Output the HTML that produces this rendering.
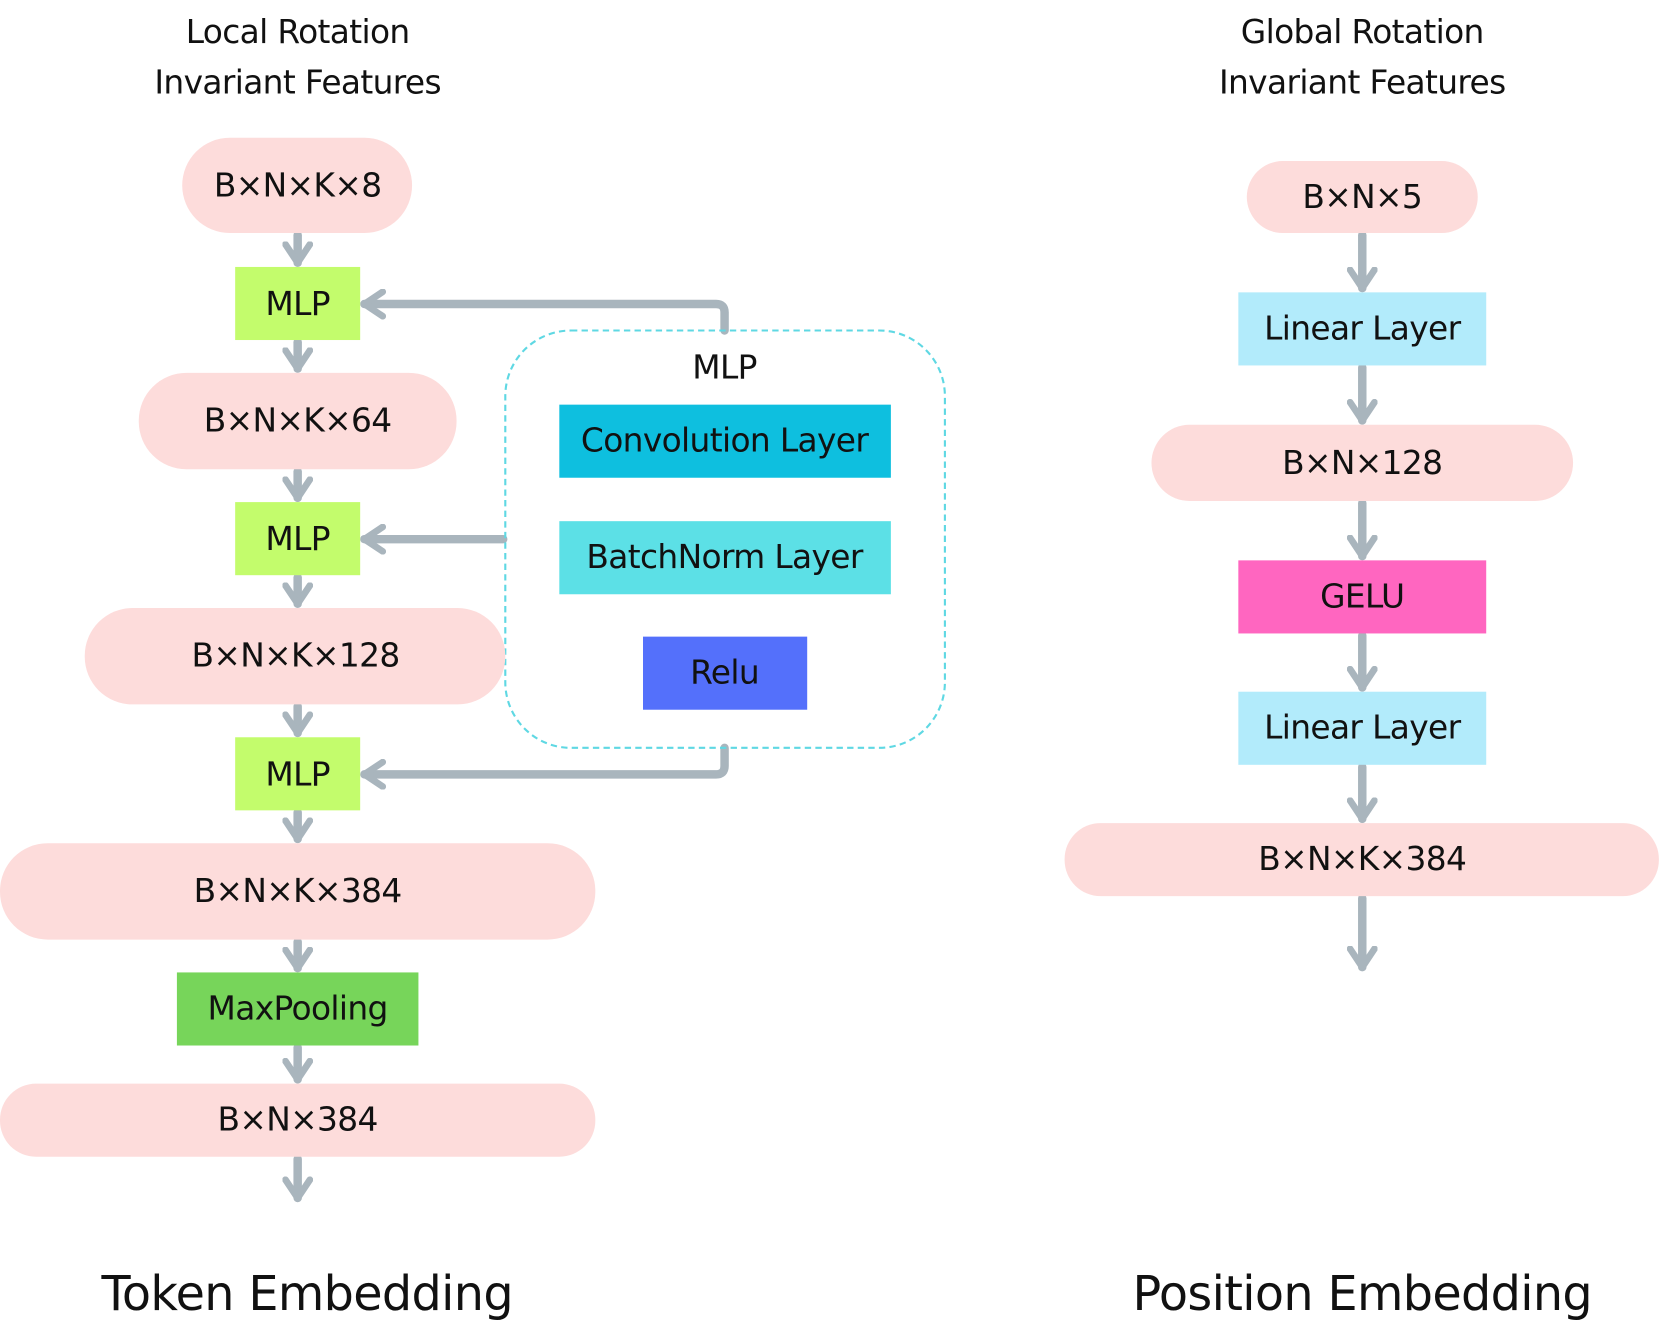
<!DOCTYPE html>
<html><head><meta charset="utf-8"><style>
html,body{margin:0;padding:0;background:#fff}
svg{display:block}
text{font-family:"DejaVu Sans","Liberation Sans",sans-serif;fill:#111;text-anchor:middle;dominant-baseline:central;letter-spacing:-0.6px}
</style></head><body>
<svg width="1661" height="1340" viewBox="0 0 1568 1265" preserveAspectRatio="none" xmlns="http://www.w3.org/2000/svg">
<defs>
<marker id="a" viewBox="0 0 10 10" refX="7" refY="5" markerWidth="3.6" markerHeight="3.6" orient="auto" markerUnits="strokeWidth">
<path d="M1,1 L7,5 L1,9" fill="none" stroke="#a9b5bd" stroke-width="2.2" stroke-linecap="round" stroke-linejoin="round"/>
</marker>
</defs>
<g font-size="31">
<text x="281" y="30">Local Rotation</text>
<text x="281" y="78">Invariant Features</text>
<text x="1286" y="30">Global Rotation</text>
<text x="1286" y="78">Invariant Features</text>
</g>
<g stroke="#a9b5bd" stroke-width="8" fill="none" marker-end="url(#a)" stroke-linecap="round">
<line x1="281" y1="222" x2="281" y2="248"/>
<line x1="281" y1="323" x2="281" y2="348"/>
<line x1="281" y1="445" x2="281" y2="470"/>
<line x1="281" y1="545" x2="281" y2="570"/>
<line x1="281" y1="667" x2="281" y2="692"/>
<line x1="281" y1="767" x2="281" y2="792"/>
<line x1="281" y1="889" x2="281" y2="914"/>
<line x1="281" y1="989" x2="281" y2="1019"/>
<line x1="281" y1="1094" x2="281" y2="1131"/>
<path d="M684,312 V295 Q684,287 676,287 H344"/>
<line x1="475" y1="509" x2="344" y2="509"/>
<path d="M684,706 V723 Q684,731 676,731 H344"/>
<line x1="1286" y1="222" x2="1286" y2="272"/>
<line x1="1286" y1="347" x2="1286" y2="397"/>
<line x1="1286" y1="475" x2="1286" y2="525"/>
<line x1="1286" y1="600" x2="1286" y2="649"/>
<line x1="1286" y1="724" x2="1286" y2="773"/>
<line x1="1286" y1="848" x2="1286" y2="913"/>
</g>
<rect x="477" y="312" width="415" height="394" rx="62" fill="none" stroke="#5fd8e3" stroke-width="2" stroke-dasharray="6,4"/>
<g fill="#fddcdb">
<rect x="172" y="130" width="217" height="90" rx="45"/>
<rect x="131" y="352" width="300" height="91" rx="45"/>
<rect x="80" y="574" width="397" height="91" rx="45"/>
<rect x="0" y="796" width="562" height="91" rx="45"/>
<rect x="0" y="1023" width="562" height="69" rx="34"/>
<rect x="1177" y="152" width="218" height="68" rx="34"/>
<rect x="1087" y="401" width="398" height="72" rx="36"/>
<rect x="1005" y="777" width="561" height="69" rx="34"/>
</g>
<g fill="#c3fc6c">
<rect x="222" y="252" width="118" height="69"/>
<rect x="222" y="474" width="118" height="69"/>
<rect x="222" y="696" width="118" height="69"/>
</g>
<rect x="167" y="918" width="228" height="69" fill="#77d55a"/>
<rect x="528" y="382" width="313" height="69" fill="#0ebfdf"/>
<rect x="528" y="492" width="313" height="69" fill="#5ce0e6"/>
<rect x="607" y="601" width="155" height="69" fill="#5470fb"/>
<rect x="1169" y="276" width="234" height="69" fill="#b2ebfb"/>
<rect x="1169" y="529" width="234" height="69" fill="#ff66c0"/>
<rect x="1169" y="653" width="234" height="69" fill="#b2ebfb"/>
<g font-size="31">
<text x="281" y="175">B×N×K×8</text>
<text x="281" y="287">MLP</text>
<text x="281" y="397">B×N×K×64</text>
<text x="281" y="509">MLP</text>
<text x="279" y="619">B×N×K×128</text>
<text x="281" y="731">MLP</text>
<text x="281" y="841">B×N×K×384</text>
<text x="281" y="952">MaxPooling</text>
<text x="281" y="1057">B×N×384</text>
<text x="684" y="347">MLP</text>
<text x="684" y="416">Convolution Layer</text>
<text x="684" y="526">BatchNorm Layer</text>
<text x="684" y="635">Relu</text>
<text x="1286" y="186">B×N×5</text>
<text x="1286" y="310">Linear Layer</text>
<text x="1286" y="437">B×N×128</text>
<text x="1286" y="563">GELU</text>
<text x="1286" y="687">Linear Layer</text>
<text x="1286" y="811">B×N×K×384</text>
</g>
<g font-size="45">
<text x="290" y="1222">Token Embedding</text>
<text x="1286" y="1222">Position Embedding</text>
</g>
</svg>
</body></html>
